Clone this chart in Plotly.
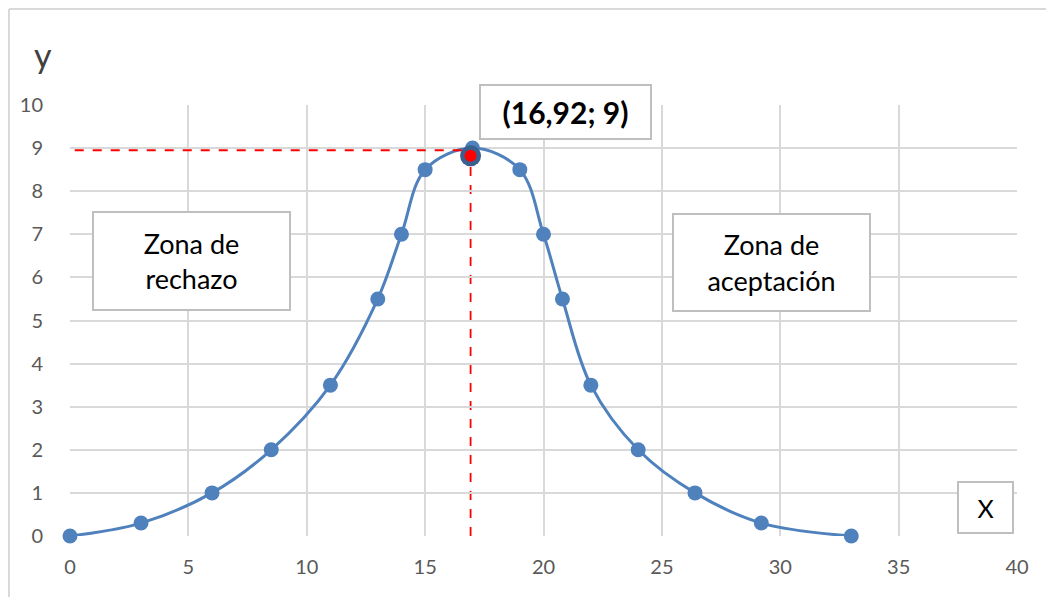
import plotly.graph_objects as go

x_vals = [0, 3, 6, 8.5, 11, 13, 14, 15, 17, 19, 20, 20.8, 22, 24, 26.4, 29.2, 33]
y_vals = [0, 0.3, 1, 2, 3.5, 5.5, 7, 8.5, 9, 8.5, 7, 5.5, 3.5, 2, 1, 0.3, 0]
peak_x = 16.92
peak_y = 8.95
marker_y = 8.82
x_ticks = [0, 5, 10, 15, 20, 25, 30, 35, 40]
y_ticks = list(range(0, 11))

FONT = "Lato, 'Open Sans', sans-serif"
BLUE = "#4f81bd"
GRID = "#d9d9d9"

fig = go.Figure()
fig.add_trace(go.Scatter(
    x=x_vals, y=y_vals, mode="lines+markers",
    line=dict(color=BLUE, width=3, shape="spline", smoothing=1.0),
    marker=dict(color=BLUE, size=15), cliponaxis=False, showlegend=False))
fig.add_trace(go.Scatter(
    x=[peak_x], y=[marker_y], mode="markers",
    marker=dict(color="#3b5f8f", size=21), showlegend=False, cliponaxis=False))
fig.add_trace(go.Scatter(
    x=[peak_x], y=[marker_y], mode="markers",
    marker=dict(color="#ff0000", size=12), showlegend=False, cliponaxis=False))

fig.add_shape(type="line", x0=0.2, x1=peak_x, y0=peak_y, y1=peak_y,
              line=dict(color="#ff0000", width=1.8, dash="dash"), layer="above")
fig.add_shape(type="line", x0=peak_x, x1=peak_x, y0=0, y1=peak_y,
              line=dict(color="#ff0000", width=1.8, dash="dash"), layer="below")

# outer frame lines (left and top)
fig.add_shape(type="line", xref="paper", yref="paper", x0=-0.0644, x1=-0.0644, y0=-0.2, y1=1.2227,
              line=dict(color=GRID, width=2))
fig.add_shape(type="line", xref="paper", yref="paper", x0=-0.0644, x1=1.06, y0=1.2227, y1=1.2227,
              line=dict(color=GRID, width=2))

def box(text, x, y, w, h, size=27, bold=False):
    t = f"<b>{text}</b>" if bold else text
    fig.add_annotation(x=x, y=y, xref="x", yref="y", text=t, showarrow=False,
                       width=w, height=h, bgcolor="white", bordercolor="#bfbfbf",
                       borderwidth=2, font=dict(family=FONT, size=size, color="black"),
                       align="center", valign="middle")

box("Zona de<br>rechazo", 5.13, 6.38, 193, 94)
box("Zona de<br>aceptación", 29.63, 6.35, 193, 93)
box("(16,92; 9)", 20.93, 9.84, 167, 50, size=30, bold=True)
box("X", 38.67, 0.66, 51, 47, size=25)

fig.add_annotation(x=-0.040, y=1.17, xref="paper", yref="paper", text="y", showarrow=False,
                   font=dict(family=FONT, size=34, color="#404040"))

fig.update_xaxes(range=[0, 40], tickvals=x_ticks, showgrid=True, gridcolor=GRID, gridwidth=1.5,
                 zeroline=False, showline=False, ticks="",
                 tickfont=dict(family=FONT, size=20, color="#595959"), ticklabelstandoff=17)
fig.update_yaxes(range=[0, 10], tickvals=y_ticks, showgrid=True, gridcolor=GRID, gridwidth=1.5,
                 zeroline=False, showline=False, ticks="",
                 tickfont=dict(family=FONT, size=20, color="#595959"), ticklabelstandoff=26)
fig.update_layout(width=1054, height=597, margin=dict(l=62, r=45, t=97, b=69),
                  plot_bgcolor="white", paper_bgcolor="white", showlegend=False)
fig.write_html("out.html")
